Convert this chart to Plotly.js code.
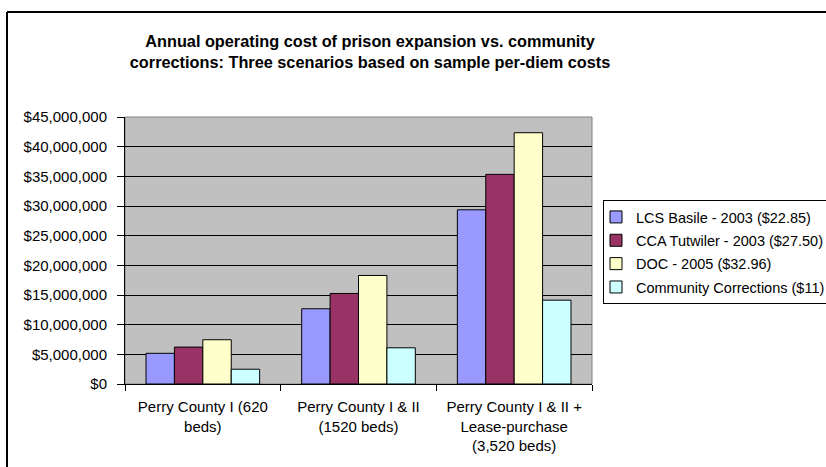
<!DOCTYPE html>
<html>
<head>
<meta charset="utf-8">
<script src="https://cdn.plot.ly/plotly-3.0.1.min.js"></script>
<style>
html, body { margin: 0; padding: 0; background: #ffffff; }
#chart { width: 826px; height: 467px; }
</style>
</head>
<body>
<div id="chart"></div>
<script>
var categories = [
  "Perry County I (620<br>beds)",
  "Perry County I & II<br>(1520 beds)",
  "Perry County I & II +<br>Lease-purchase<br>(3,520 beds)"
];
var seriesNames = [
  "LCS Basile - 2003 ($22.85)",
  "CCA Tutwiler - 2003 ($27.50)",
  "DOC - 2005 ($32.96)",
  "Community Corrections ($11)"
];
var lcsBasile = [5170000, 12680000, 29360000];
var ccaTutwiler = [6220000, 15260000, 35330000];
var doc2005 = [7460000, 18290000, 42350000];
var communityCorrections = [2490000, 6100000, 14130000];
var colors = ["#9999FF", "#993366", "#FFFFCC", "#CCFFFF"];

var values = [lcsBasile, ccaTutwiler, doc2005, communityCorrections];
var FONT = "Liberation Sans, Arial, sans-serif";

var traces = values.map(function (v, i) {
  return {
    type: "bar",
    x: categories,
    y: v,
    name: seriesNames[i],
    legendgroup: "g" + i,
    marker: { color: colors[i], line: { color: "#000000", width: 1 } },
    hoverinfo: "y+name"
  };
});

var L = 125, R = 592, T = 117, B = 384;
var pw = R - L, ph = B - T;
function px(x) { return (x - L) / pw; }
function py(y) { return (B - y) / ph; }

var layout = {
  width: 826,
  height: 467,
  margin: { l: L, r: 826 - R, t: T, b: 467 - B, pad: 0, autoexpand: false },
  paper_bgcolor: "#ffffff",
  plot_bgcolor: "#C0C0C0",
  font: { family: FONT, size: 15, color: "#000000" },
  title: {
    text: "Annual operating cost of prison expansion vs. community<br>corrections: Three scenarios based on sample per-diem costs",
    font: { family: FONT, size: 16.3, color: "#000000", weight: "bold" },
    xref: "container", x: 0.448, xanchor: "center",
    yref: "container", y: 1 - 47 / 467, yanchor: "top"
  },
  barmode: "group",
  bargap: 0.27,
  bargroupgap: 0,
  xaxis: {
    type: "category",
    showline: true, linecolor: "#000000", linewidth: 1,
    ticks: "outside", tickson: "boundaries", ticklen: 6, tickcolor: "#000000",
    ticklabelstandoff: 9,
    tickfont: { family: FONT, size: 15, color: "#000000" },
    showgrid: false, zeroline: false, fixedrange: true
  },
  yaxis: {
    range: [0, 45000000],
    dtick: 5000000,
    tickformat: "$,.0f",
    showline: true, linecolor: "#000000", linewidth: 1,
    ticks: "outside", ticklen: 7, tickcolor: "#000000",
    ticklabelstandoff: 7,
    tickfont: { family: FONT, size: 15, color: "#000000" },
    showgrid: true, gridcolor: "#000000", gridwidth: 1,
    zeroline: false, fixedrange: true
  },
  showlegend: true,
  legend: {
    x: px(603), xanchor: "left",
    y: py(200), yanchor: "top",
    bgcolor: "#ffffff", bordercolor: "#000000", borderwidth: 1,
    font: { family: FONT, size: 14.5, color: "#000000" },
    indentation: -8,
    traceorder: "grouped", tracegroupgap: 1.5
  },
  shapes: [
    { type: "rect", xref: "paper", yref: "paper", x0: 0, x1: 1, y0: 0, y1: 1,
      line: { color: "#808080", width: 1 }, layer: "below" },
    { type: "line", xref: "paper", yref: "paper", x0: px(7), x1: px(7), y0: py(480), y1: py(12),
      line: { color: "#000000", width: 2 } },
    { type: "line", xref: "paper", yref: "paper", x0: px(7), x1: px(840), y0: py(12), y1: py(12),
      line: { color: "#000000", width: 2 } }
  ]
};

Plotly.newPlot("chart", traces, layout, { displayModeBar: false, staticPlot: true });
</script>
</body>
</html>
